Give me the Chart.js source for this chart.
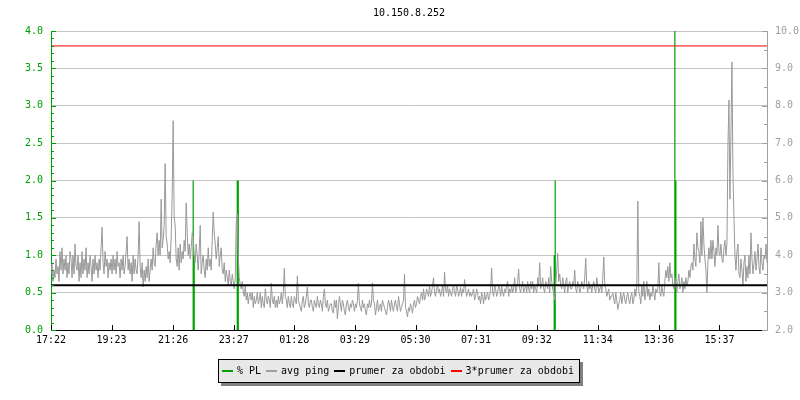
<!DOCTYPE html>
<html>
<head>
<meta charset="utf-8">
<script src="https://cdn.jsdelivr.net/npm/chart.js@4/dist/chart.umd.min.js"></script>
<style>
    body { margin: 0; background: #fff; }
    #wrap { position: relative; width: 800px; height: 400px; font-family: "DejaVu Sans Mono", monospace; }
    #titre { position: absolute; top: 7px; left: 51px; width: 716px; text-align: center; font-size: 10px; color: #000; }
    #legende {
        position: absolute; left: 218px; top: 359px; width: 360px; height: 22px;
        border: 1px solid #000; background: #e8e8e8; box-shadow: 3px 3px 0 #808080;
        font-size: 10px; line-height: 22px; white-space: nowrap; display: flex; align-items: center;
    }
    #legende span.s { display: inline-block; width: 11px; height: 2px; margin: 0 4px 0 5px; }
    #legende span.s:first-child { margin-left: 3px; }
</style>
</head>
<body>
<div id="wrap">
    <canvas id="pingGraph" width="800" height="400"></canvas>
    <div id="titre">10.150.8.252</div>
    <div id="legende"><span class="s" style="background:#00a000"></span><span>% PL</span><span class="s" style="background:#a0a0a0"></span><span>avg ping</span><span class="s" style="background:#000"></span><span>prumer za obdobi</span><span class="s" style="background:#ff0000"></span><span>3*prumer za obdobi</span></div>
</div>
<script>
"use strict"

// axe X : minutes depuis 17:22
const tickMinutes = [0, 121, 244, 365, 486, 607, 728, 849, 970, 1092, 1214, 1335];
const timeLabels = ['17:22', '19:23', '21:26', '23:27', '01:28', '03:29', '05:30', '07:31', '09:32', '11:34', '13:36', '15:37'];
const totalMinutes = 1430;

// avg ping (ms), un echantillon toutes les 2 minutes
const pingStep = 2;
const pingValues = [
    3.5, 3.8, 3.3, 3.6, 3.4, 3.9, 3.5, 3.7, 3.3, 4.1, 3.6, 4.2, 3.5, 3.9, 3.6, 4.0, 3.4, 3.8, 3.5, 4.1,
    3.9, 3.4, 4.0, 3.5, 4.3, 3.7, 3.6, 4.0, 3.3, 3.8, 3.4, 4.1, 3.5, 3.9, 3.6, 4.2, 3.4, 3.8, 3.5, 4.0,
    3.7, 3.3, 3.9, 3.5, 4.0, 3.6, 3.8, 3.4, 3.9, 3.6, 4.2, 4.75, 3.8, 3.5, 4.1, 3.7, 3.9, 3.4, 3.8, 3.6,
    3.9, 3.5, 4.0, 3.6, 3.9, 3.5, 4.1, 3.7, 3.8, 3.4, 3.9, 3.6, 4.0, 3.5, 3.7, 4.1, 4.5, 3.6, 3.9, 3.5,
    3.8, 3.3, 4.0, 3.5, 3.9, 3.6, 3.5, 4.0, 4.9, 3.7, 3.4, 3.8, 3.15, 3.6, 3.3, 3.7, 3.4, 3.9, 3.3, 3.6,
    3.9, 3.6, 4.2, 3.8, 3.7, 4.3, 4.6, 4.0, 4.4, 4.0, 5.5, 4.2, 4.4, 4.8, 6.45, 4.5, 4.3, 3.9, 4.1, 3.8,
    4.5, 5.6, 7.6, 5.0, 4.8, 3.9, 3.7, 4.2, 3.6, 4.3, 3.8, 4.1, 3.9, 4.4, 4.1, 5.4, 4.6, 4.0, 4.3, 3.9,
    4.2, 4.6, 4.5, 4.0, 3.8, 4.3, 4.0, 3.6, 4.1, 4.8, 3.5, 3.8, 4.0, 3.6, 3.4, 3.9, 3.6, 4.2, 3.7, 3.9,
    3.6, 4.4, 5.15, 4.6, 4.3, 3.9, 4.2, 4.5, 3.7, 4.0, 4.2, 3.6, 3.5, 3.8, 3.3, 3.6, 3.4, 3.2, 3.6, 3.3,
    3.2, 3.5, 3.3, 3.1, 3.4, 4.9, 5.1, 4.0, 3.4, 3.2, 3.1, 3.3, 3.0, 2.9, 3.2, 2.8, 3.0, 2.7, 2.9, 3.0,
    2.8, 3.0, 2.6, 2.9, 2.7, 2.8, 3.0, 2.7, 2.8, 3.0, 2.6, 2.9, 2.7, 2.6, 3.1, 2.8, 2.7, 2.9, 2.8, 2.6,
    3.25, 2.8, 2.7, 2.9, 2.6, 2.8, 2.6, 2.9, 2.7, 2.8, 3.0, 2.7, 3.0, 3.65, 2.9, 2.8, 2.6, 2.9, 2.7, 2.6,
    2.9, 2.7, 2.6, 2.9, 2.8, 2.7, 3.45, 2.8, 2.7, 2.6, 2.5, 2.8, 2.9, 2.6, 2.7, 2.9, 3.15, 2.7, 2.6, 2.8,
    2.8, 2.6, 2.5, 2.8, 2.7, 2.6, 2.9, 2.7, 2.6, 2.8, 2.7, 2.5, 2.9, 3.1, 2.7, 2.6, 2.8, 2.5, 2.6, 2.7,
    2.7, 2.5, 2.45, 2.8, 2.6, 2.8, 2.3, 2.6, 2.9, 2.7, 2.5, 2.8, 2.7, 2.5, 2.4, 2.7, 2.8, 2.6, 2.5, 2.7,
    2.6, 2.8, 2.7, 2.5, 2.7, 2.6, 2.8, 3.25, 2.7, 2.6, 2.5, 2.8, 2.6, 2.7, 2.5, 2.4, 2.7, 2.6, 2.8, 2.6,
    2.7, 3.26, 2.8, 2.7, 2.4, 2.6, 2.8, 2.5, 2.6, 2.7, 2.5, 2.8, 2.7, 2.6, 2.5, 2.4, 2.6, 2.8, 2.7, 2.5,
    2.8, 2.6, 2.5, 2.7, 2.8, 2.6, 2.5, 2.9, 2.7, 2.5, 2.6, 2.7, 2.8, 3.5, 2.6, 2.5, 2.35, 2.6, 2.5, 2.7,
    2.6, 2.45, 2.7, 2.8, 2.6, 2.7, 2.9, 2.8, 2.7, 2.9, 3.0, 2.8, 3.1, 2.8, 2.9, 3.1, 3.0, 2.9, 3.2, 2.9,
    3.0, 3.2, 3.4, 3.0, 2.9, 3.1, 3.2, 3.0, 3.1, 2.9, 3.0, 3.2, 2.9, 3.55, 3.1, 3.0, 3.2, 2.9, 3.1, 3.0,
    2.9, 3.1, 3.2, 3.0, 2.9, 3.2, 3.1, 2.9, 3.0, 3.15, 2.9, 3.1, 3.0, 3.35, 3.1, 2.9, 3.0, 3.1, 2.9, 3.0,
    2.9, 3.0, 3.1, 2.8, 2.9, 3.1, 3.0, 2.8, 2.9, 2.7, 3.0, 2.9, 2.7, 3.0, 2.8, 2.9, 3.0, 2.8, 2.9, 3.1,
    3.66, 3.0, 2.9, 3.2, 3.1, 2.9, 3.0, 3.2, 3.1, 2.9, 3.2, 3.0, 2.9, 3.1, 3.0, 3.2, 3.3, 2.9, 3.1, 3.0,
    3.2, 3.0, 3.1, 3.4, 3.0, 3.1, 3.3, 3.63, 3.1, 3.0, 3.2, 3.3, 3.0, 3.1, 3.2, 3.0, 3.3, 3.1, 3.0, 3.3,
    3.1, 3.3, 3.0, 3.2, 3.1, 3.0, 3.4, 3.2, 3.8, 3.1, 3.2, 3.4, 3.1, 3.0, 3.3, 3.2, 3.1, 3.4, 3.0, 3.7,
    3.3, 3.1, 3.0, 2.8, 3.2, 3.6, 4.05, 3.3, 3.5, 3.2, 3.1, 3.4, 3.2, 3.0, 3.3, 3.4, 3.0, 3.2, 3.3, 3.1,
    3.1, 3.3, 3.2, 3.6, 3.1, 3.0, 3.3, 3.2, 3.0, 3.1, 3.3, 3.2, 3.1, 3.4, 3.92, 3.2, 3.0, 3.3, 3.1, 3.2,
    3.0, 3.2, 3.3, 3.1, 3.0, 3.4, 3.2, 3.0, 3.1, 3.2, 3.0, 3.4, 3.95, 3.2, 3.1, 2.9, 3.0, 3.1, 2.8, 2.9,
    2.9, 3.0, 2.8, 2.7, 3.0, 2.8, 2.55, 2.7, 2.8, 3.0, 2.7, 2.9, 3.0, 2.8, 2.7, 2.9, 3.0, 2.8, 2.7, 2.9,
    3.0, 2.7, 2.8, 3.1, 2.9, 3.2, 5.45, 3.0, 2.9, 2.7, 3.2, 2.9, 3.3, 2.8, 3.0, 3.3, 2.9, 3.1, 2.8, 3.0,
    2.9, 3.2, 3.0, 2.8, 3.1, 3.0, 3.1, 3.8, 3.0, 2.9, 3.2, 3.0, 2.9, 3.3, 3.6, 3.4, 3.7, 3.3, 3.8, 3.4,
    3.5, 3.2, 3.1, 3.4, 3.2, 3.0, 3.3, 3.5, 3.1, 3.2, 3.4, 3.0, 3.3, 3.1, 3.4, 3.2, 3.3, 3.6, 3.4, 3.7,
    3.8, 3.6, 4.3, 3.9, 3.7, 4.6, 4.2, 4.1, 3.8, 4.9, 4.0, 5.0, 4.3, 3.9, 3.6, 3.0, 3.8, 4.2, 3.9, 4.4,
    3.9, 4.4, 4.1, 3.7, 4.2, 4.0, 4.8, 4.1, 4.0, 4.3, 3.9, 3.8, 4.2, 4.4, 4.0, 4.3, 6.95, 8.15, 5.5, 7.2,
    9.17, 6.2, 5.0, 4.0, 3.6, 4.1, 4.3, 3.5, 3.4, 3.9, 3.6, 3.2, 3.8, 4.0, 3.3, 3.7, 3.4, 4.0, 3.5, 4.6,
    3.9, 3.5, 3.8, 4.1, 3.6, 3.9, 4.3, 3.7, 3.5, 4.2, 3.8, 3.6, 4.0, 3.9, 4.3, 3.8
];

// % PL (pertes de paquets)
const plMinutes = [284, 286, 372, 374, 1005, 1007, 1246, 1248];
const plValues = [2.0, 1.0, 2.0, 2.0, 1.0, 2.0, 4.0, 2.0];

// moyenne sur la periode (ms)
const prumer = 3.2;

const pingData = pingValues.map((v, i) => ({ x: i * pingStep, y: v }));
const plData = [];
plMinutes.forEach((m, i) => {
    plData.push({ x: m, y: 0 }, { x: m, y: plValues[i] }, { x: m, y: null });
});

const vert = '#00a000';
const gris = '#a0a0a0';

// petites graduations dessinees a l'interieur du graphe
const ticksInterieurs = {
    id: 'ticksInterieurs',
    afterDatasetsDraw(chart) {
        const ctx = chart.ctx;
        const a = chart.chartArea;
        const y = chart.scales.y, y2 = chart.scales.y2, x = chart.scales.x;
        ctx.save();
        ctx.lineWidth = 1;
        ctx.strokeStyle = vert;
        ctx.beginPath();
        for (let i = 0; i <= 40; i++) {
            const py = Math.round(y.getPixelForValue(i / 10)) + 0.5;
            const len = i % 5 === 0 ? 5 : 3;
            ctx.moveTo(a.left, py);
            ctx.lineTo(a.left + len, py);
        }
        ctx.stroke();
        ctx.strokeStyle = gris;
        ctx.beginPath();
        for (let i = 4; i <= 20; i++) {
            const py = Math.round(y2.getPixelForValue(i / 2)) + 0.5;
            const len = i % 2 === 0 ? 5 : 3;
            ctx.moveTo(a.right, py);
            ctx.lineTo(a.right - len, py);
        }
        ctx.stroke();
        ctx.strokeStyle = '#000';
        ctx.beginPath();
        tickMinutes.forEach(m => {
            const px = Math.round(x.getPixelForValue(m)) + 0.5;
            ctx.moveTo(px, a.bottom);
            ctx.lineTo(px, a.bottom - 5);
        });
        ctx.stroke();
        ctx.restore();
    }
};

Chart.defaults.font.family = '"DejaVu Sans Mono", monospace';
Chart.defaults.font.size = 10;

const canvas = document.getElementById('pingGraph');
const ctx = canvas.getContext('2d');

new Chart(ctx, {
    type: 'line',
    data: {
        datasets: [{
            label: '3*prumer za obdobi',
            data: [{ x: 0, y: prumer * 3 }, { x: totalMinutes, y: prumer * 3 }],
            yAxisID: 'y2',
            borderColor: '#ff0000',
            borderWidth: 1,
            order: 0
        }, {
            label: 'prumer za obdobi',
            data: [{ x: 0, y: prumer }, { x: totalMinutes, y: prumer }],
            yAxisID: 'y2',
            borderColor: '#000000',
            borderWidth: 2,
            order: 1
        }, {
            label: 'avg ping',
            data: pingData,
            yAxisID: 'y2',
            borderColor: '#999999',
            borderWidth: 1,
            order: 2
        }, {
            label: '% PL',
            data: plData,
            yAxisID: 'y',
            borderColor: vert,
            borderWidth: 1.2,
            spanGaps: false,
            order: 3
        }]
    },
    options: {
        responsive: false,
        animation: false,
        elements: { point: { radius: 0 }, line: { tension: 0 } },
        layout: { padding: { top: 31, left: 0, right: 0, bottom: 0 } },
        plugins: {
            legend: { display: false },
            tooltip: { enabled: false }
        },
        scales: {
            x: {
                type: 'linear',
                min: 0,
                max: totalMinutes,
                afterBuildTicks: scale => { scale.ticks = tickMinutes.map(v => ({ value: v })); },
                afterFit: scale => { scale.height = 70; },
                ticks: {
                    autoSkip: false,
                    maxRotation: 0,
                    padding: 4,
                    color: '#000',
                    callback: value => timeLabels[tickMinutes.indexOf(value)]
                },
                grid: { display: false, drawTicks: false },
                border: { display: true, color: '#000', width: 1 }
            },
            y: {
                position: 'left',
                min: 0,
                max: 4,
                afterFit: scale => { scale.width = 51; },
                ticks: {
                    stepSize: 0.5,
                    padding: 8,
                    color: vert,
                    callback: value => value.toFixed(1)
                },
                grid: { color: '#c4c4c4', drawTicks: false },
                border: { display: true, color: vert, width: 1 }
            },
            y2: {
                position: 'right',
                min: 2,
                max: 10,
                afterFit: scale => { scale.width = 33; },
                ticks: {
                    stepSize: 1,
                    padding: 8,
                    color: gris,
                    callback: value => value.toFixed(1)
                },
                grid: { display: false, drawTicks: false },
                border: { display: true, color: gris, width: 1 }
            }
        }
    },
    plugins: [ticksInterieurs]
});
</script>
</body>
</html>
